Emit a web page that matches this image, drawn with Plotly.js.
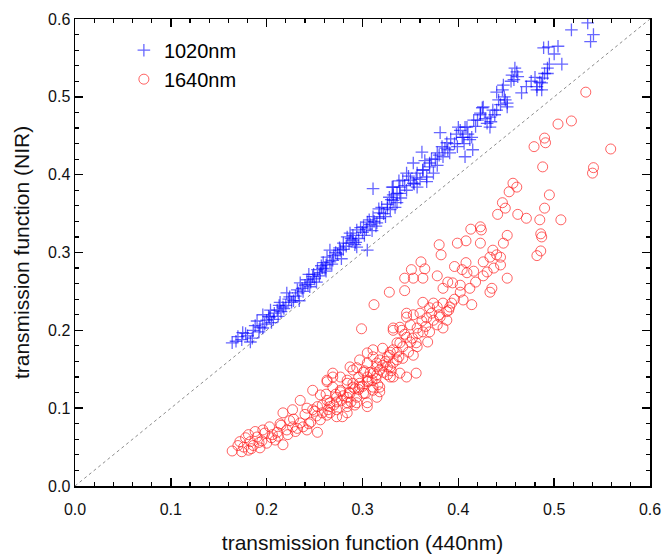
<!DOCTYPE html>
<html>
<head>
<meta charset="utf-8">
<script src="https://cdn.plot.ly/plotly-3.0.1.min.js"></script>
<style>html,body{margin:0;padding:0;background:#fff;}#chart{width:665px;height:554px;}</style>
</head>
<body>
<div id="chart"></div>
<script>
// 1020nm series (blue crosses)
var nir1020X = [0.164,0.174,0.183,0.175,0.186,0.193,0.200,0.196,0.203,0.211,0.217,0.214,0.224,0.221,0.232,0.235,0.242,0.248,0.253,0.245,0.256,0.259,0.263,0.269,0.266,0.277,0.280,0.284,0.290,0.287,0.294,0.301,0.305,0.311,0.315,0.318,0.326,0.332,0.331,0.311,0.336,0.294,0.305,
0.535,0.518,0.541,0.538,0.489,0.494,0.504,0.508,0.495,0.493,0.459,0.461,0.456,0.462,0.488,0.485,0.482,0.487,0.471,0.447,0.446,0.449,0.451,0.440,0.425,0.423,0.436,0.438,0.433,0.430,0.407,0.400,0.404,0.414,0.415,0.407,0.381,0.383,0.389,0.378,0.370,0.363,0.353,0.346,0.339,0.332,0.367,0.357,
0.332,0.339,0.346,0.350,0.357,0.363,0.370,0.378,0.374,0.367,0.362,0.388,0.384,0.391,0.399,0.402,0.409,0.405,0.412,0.423,0.426,0.433,0.440,0.451,0.482,0.487,0.493,0.329,0.336,0.353,0.342,
0.170,0.180,0.188,0.192,0.198,0.205,0.208,0.215,0.220,0.226,0.230,0.238,0.240,0.246,0.250,0.255,0.258,0.262,0.266,0.270,0.274,0.280,0.286,0.290,0.296,0.300,0.304,0.308,0.312,0.318,0.322,0.326,0.330,0.204,0.212,0.234,0.244,0.262,0.278,0.292,0.310,0.320,0.340,0.344,0.356,0.360,0.372,0.380,0.392,0.396,0.410,0.418,0.420,0.428,0.444,0.448,0.455,0.476,0.490,0.500,
0.168,0.178,0.185,0.190,0.196,0.202,0.207,0.213,0.218,0.223,0.228,0.233,0.237,0.243,0.249,0.252,0.257,0.261,0.268,0.272,0.276,0.283,0.288,0.293,0.298,0.302,0.307,0.314,0.317,0.324,0.328,0.334,0.338,0.348,0.354,0.365,0.376,0.386,0.398,0.406,0.416,0.434,0.442,0.458,0.466,0.480];
var nir1020Y = [0.184,0.188,0.185,0.197,0.200,0.204,0.213,0.220,0.217,0.226,0.230,0.236,0.243,0.248,0.252,0.261,0.265,0.269,0.278,0.256,0.274,0.287,0.294,0.290,0.303,0.303,0.312,0.320,0.316,0.325,0.329,0.333,0.339,0.346,0.338,0.351,0.357,0.367,0.384,0.382,0.376,0.307,0.303,
0.595,0.586,0.580,0.571,0.563,0.564,0.565,0.542,0.542,0.537,0.537,0.532,0.528,0.526,0.524,0.519,0.513,0.509,0.513,0.515,0.509,0.496,0.487,0.506,0.486,0.477,0.483,0.477,0.461,0.466,0.461,0.461,0.448,0.448,0.432,0.423,0.454,0.436,0.432,0.428,0.415,0.406,0.415,0.402,0.384,0.374,0.391,0.384,
0.384,0.376,0.380,0.393,0.402,0.406,0.410,0.412,0.402,0.397,0.429,0.441,0.423,0.428,0.436,0.457,0.461,0.448,0.445,0.479,0.487,0.474,0.483,0.492,0.509,0.518,0.530,0.355,0.364,0.389,0.393,
0.192,0.193,0.206,0.198,0.208,0.210,0.222,0.224,0.232,0.236,0.244,0.250,0.258,0.262,0.266,0.270,0.280,0.284,0.288,0.296,0.298,0.304,0.312,0.322,0.318,0.326,0.330,0.336,0.340,0.344,0.350,0.362,0.368,0.226,0.218,0.238,0.272,0.276,0.292,0.310,0.328,0.358,0.370,0.386,0.396,0.394,0.420,0.425,0.446,0.440,0.452,0.462,0.470,0.472,0.490,0.500,0.520,0.520,0.530,0.555,
0.186,0.196,0.190,0.212,0.203,0.218,0.214,0.232,0.228,0.240,0.238,0.248,0.254,0.259,0.272,0.262,0.283,0.279,0.285,0.300,0.306,0.308,0.318,0.313,0.332,0.322,0.342,0.334,0.356,0.346,0.371,0.358,0.392,0.398,0.388,0.418,0.420,0.434,0.452,0.440,0.470,0.468,0.496,0.522,0.505,0.525];

// 1640nm series (red circles)
var nir1640X = [0.164,0.174,0.181,0.172,0.183,0.181,0.190,0.193,0.200,0.209,0.217,0.211,0.221,0.203,0.227,0.235,0.242,0.253,0.256,0.263,0.273,0.279,0.248,0.266,0.273,0.277,0.284,0.290,0.284,0.297,0.305,0.311,0.318,0.326,0.332,0.305,0.294,0.301,0.311,0.318,0.266,0.284,0.297,0.311,0.326,0.332,0.339,0.346,0.332,0.339,0.346,0.346,0.339,0.329,0.315,0.305,0.290,0.263,0.269,
0.363,0.370,0.378,0.384,0.391,0.346,0.353,0.360,0.367,0.374,0.381,0.388,0.332,0.341,0.350,0.357,0.363,0.378,0.384,0.321,0.329,0.336,0.342,0.350,0.357,0.353,0.305,0.311,0.315,0.321,0.329,0.336,0.342,0.287,0.294,0.301,0.308,0.315,0.326,0.332,0.269,0.277,0.284,0.290,0.297,0.305,0.311,0.318,0.263,0.269,0.277,0.287,0.294,0.303,0.315,0.248,0.256,0.263,0.273,0.284,0.292,0.253,0.235,0.242,0.227,0.217,0.273,0.284,0.305,
0.328,0.344,0.312,0.299,0.368,0.356,0.361,0.351,0.344,0.353,0.363,0.365,0.408,0.404,0.409,0.416,0.426,0.430,0.437,0.444,0.451,0.378,0.389,0.394,0.384,0.402,0.412,0.405,0.435,0.433,0.374,0.393,0.414,0.380,0.382,0.423,0.413,0.424,0.408,0.399,0.423,0.436,0.440,0.433,0.444,0.451,0.447,0.486,0.487,0.486,0.482,0.462,0.471,0.490,0.485,0.507,0.446,0.449,0.441,0.495,0.457,0.461,0.453,0.533,0.518,0.504,0.490,0.491,0.479,0.488,0.541,0.540,0.559,
0.176,0.186,0.195,0.205,0.198,0.212,0.222,0.230,0.238,0.246,0.228,0.252,0.258,0.264,0.270,0.278,0.262,0.286,0.292,0.300,0.296,0.306,0.314,0.322,0.318,0.328,0.336,0.344,0.352,0.358,0.366,0.372,0.388,0.396,0.402,0.418,0.426,0.396,0.214,0.188,
0.170,0.178,0.184,0.192,0.196,0.206,0.215,0.224,0.232,0.240,0.244,0.250,0.258,0.266,0.272,0.280,0.288,0.296,0.302,0.310,0.316,0.324,0.330,0.338,0.348,0.356,0.362,0.370,0.380,0.390];
var nir1640Y = [0.045,0.044,0.046,0.057,0.057,0.066,0.063,0.049,0.055,0.059,0.053,0.069,0.072,0.076,0.076,0.081,0.072,0.069,0.085,0.091,0.089,0.089,0.098,0.102,0.114,0.123,0.132,0.127,0.114,0.132,0.140,0.145,0.149,0.153,0.158,0.107,0.107,0.119,0.123,0.127,0.107,0.102,0.162,0.175,0.166,0.175,0.184,0.191,0.200,0.204,0.222,0.140,0.145,0.140,0.153,0.158,0.149,0.136,0.140,
0.236,0.229,0.230,0.235,0.230,0.217,0.220,0.222,0.216,0.213,0.217,0.213,0.203,0.200,0.207,0.203,0.198,0.207,0.203,0.177,0.172,0.184,0.179,0.185,0.179,0.168,0.171,0.166,0.158,0.155,0.153,0.162,0.164,0.153,0.152,0.146,0.146,0.143,0.143,0.140,0.145,0.140,0.136,0.132,0.127,0.134,0.127,0.121,0.134,0.127,0.121,0.119,0.114,0.119,0.114,0.123,0.117,0.110,0.108,0.107,0.104,0.102,0.110,0.100,0.098,0.094,0.098,0.094,0.102,
0.249,0.251,0.233,0.202,0.185,0.145,0.288,0.278,0.267,0.267,0.267,0.279,0.287,0.278,0.274,0.276,0.288,0.275,0.280,0.284,0.267,0.270,0.262,0.261,0.254,0.249,0.254,0.239,0.254,0.249,0.235,0.235,0.233,0.310,0.297,0.333,0.330,0.329,0.315,0.312,0.312,0.303,0.297,0.294,0.294,0.322,0.312,0.324,0.320,0.302,0.296,0.349,0.344,0.357,0.342,0.342,0.364,0.357,0.349,0.374,0.389,0.384,0.378,0.506,0.469,0.465,0.447,0.441,0.436,0.410,0.409,0.402,0.433,
0.050,0.052,0.058,0.062,0.068,0.064,0.066,0.070,0.076,0.082,0.086,0.090,0.094,0.098,0.104,0.110,0.118,0.120,0.125,0.128,0.140,0.135,0.138,0.146,0.162,0.168,0.172,0.195,0.190,0.196,0.205,0.222,0.224,0.240,0.258,0.262,0.270,0.282,0.080,0.070,
0.052,0.062,0.048,0.056,0.072,0.066,0.078,0.084,0.074,0.092,0.080,0.096,0.104,0.094,0.118,0.116,0.108,0.124,0.148,0.136,0.130,0.160,0.148,0.166,0.172,0.184,0.212,0.198,0.220,0.226];

// 1:1 reference line
var diagX = [0, 0.6];
var diagY = [0, 0.6];

var font = "Liberation Sans, Arial, sans-serif";

var traces = [
  {x: diagX, y: diagY, mode: 'lines', showlegend: false, hoverinfo: 'skip',
   line: {color: '#8c8c8c', width: 1, dash: '3px,3px'}},
  {x: nir1020X, y: nir1020Y, mode: 'markers', name: '1020nm', type: 'scatter',
   marker: {symbol: 'cross-thin-open', size: 9, color: '#0000ff', opacity: 0.6, line: {width: 1.3, color: '#0000ff'}}},
  {x: nir1640X, y: nir1640Y, mode: 'markers', name: '1640nm', type: 'scatter',
   marker: {symbol: 'circle-open', size: 10, color: '#ff2020', opacity: 0.7, line: {width: 1, color: '#ff2020'}}}
];

var axisCommon = {
  range: [0, 0.6], dtick: 0.1, tick0: 0, tickformat: '.1f',
  showgrid: false, zeroline: false,
  showline: true, linecolor: '#000', linewidth: 1.5, mirror: 'allticks',
  ticks: 'inside', ticklen: 8, tickwidth: 1.5, tickcolor: '#000',
  minor: {dtick: 0.02, ticks: 'inside', ticklen: 4, tickwidth: 1.2, tickcolor: '#000', showgrid: false},
  tickfont: {family: font, size: 16, color: '#111'}
};

var layout = {
  width: 665, height: 554,
  margin: {l: 75, r: 15, t: 19, b: 68},
  paper_bgcolor: '#fff', plot_bgcolor: '#fff',
  showlegend: true,
  legend: {x: 0.085, y: 0.975, xanchor: 'left', yanchor: 'top', bgcolor: 'rgba(0,0,0,0)',
           font: {family: font, size: 20, color: '#000'}},
  xaxis: Object.assign({}, axisCommon, {ticklabelstandoff: 8,
    title: {text: 'transmission function (440nm)', font: {family: font, size: 21, color: '#111'}, standoff: 18}}),
  yaxis: Object.assign({}, axisCommon, {
    title: {text: 'transmission function (NIR)', font: {family: font, size: 21, color: '#111'}, standoff: 12}})
};

Plotly.newPlot('chart', traces, layout, {displayModeBar: false, staticPlot: true});
</script>
</body>
</html>
